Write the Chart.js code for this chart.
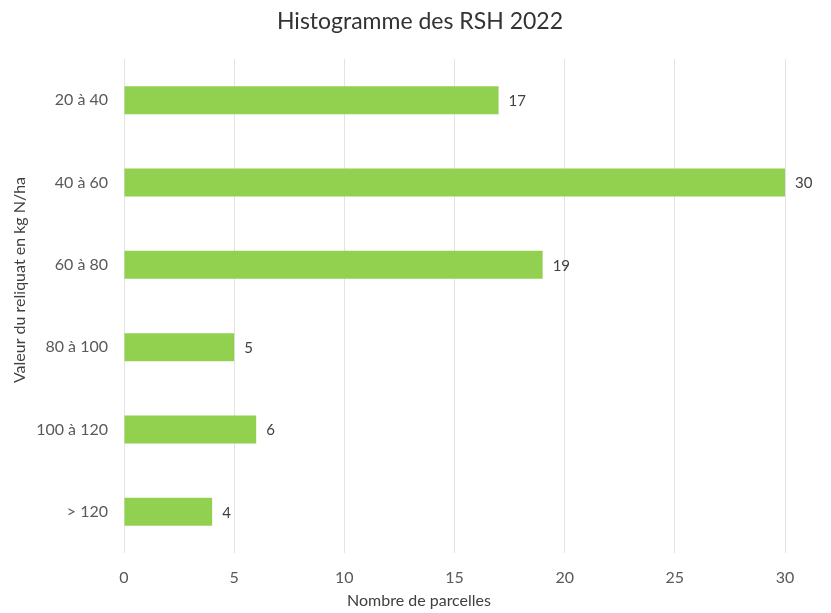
<!DOCTYPE html>
<html>
<head>
<meta charset="utf-8">
<script src="https://cdn.jsdelivr.net/npm/chart.js@4/dist/chart.umd.min.js"></script>
<style>
  html, body { margin: 0; padding: 0; background: #ffffff; }
  #c { display: block; }
</style>
</head>
<body>
<canvas id="c" width="831" height="613"></canvas>
<script>
const categories = ["20 à 40", "40 à 60", "60 à 80", "80 à 100", "100 à 120", "> 120"];
const counts = [17, 30, 19, 5, 6, 4];
const xTicks = [0, 5, 10, 15, 20, 25, 30];
const chartTitle = "Histogramme des RSH 2022";
const xTitle = "Nombre de parcelles";
const yTitle = "Valeur du reliquat en kg N/ha";

const FONT = "Lato, 'Open Sans', sans-serif";

const textPlugin = {
  id: 'texts',
  afterDatasetsDraw(chart) {
    const ctx = chart.ctx;
    ctx.save();
    // data labels
    const meta = chart.getDatasetMeta(0);
    ctx.font = "15px " + FONT;
    ctx.fillStyle = "#404040";
    ctx.textAlign = "left";
    ctx.textBaseline = "middle";
    meta.data.forEach((bar, i) => {
      ctx.fillText(String(counts[i]), bar.x + 10, bar.y + 1);
    });
    // title
    ctx.font = "23px " + FONT;
    ctx.fillStyle = "#333333";
    ctx.textAlign = "center";
    ctx.textBaseline = "middle";
    ctx.fillText(chartTitle, 420, 22);
    // x axis title
    ctx.font = "16px " + FONT;
    ctx.fillStyle = "#404040";
    ctx.fillText(xTitle, 419, 601);
    // y axis title
    ctx.translate(20, 280);
    ctx.rotate(-Math.PI / 2);
    ctx.fillText(yTitle, 0, 0);
    ctx.restore();
  }
};

new Chart(document.getElementById('c'), {
  type: 'bar',
  data: {
    labels: categories,
    datasets: [{
      data: counts,
      backgroundColor: '#92d050',
      borderWidth: 0,
      barPercentage: 0.34,
      categoryPercentage: 1.0
    }]
  },
  options: {
    indexAxis: 'y',
    responsive: false,
    animation: false,
    layout: { padding: { top: 59, right: 46, bottom: 0, left: 0 } },
    plugins: {
      legend: { display: false },
      title: { display: false },
      tooltip: { enabled: false }
    },
    scales: {
      x: {
        min: 0,
        max: 30,
        afterBuildTicks(scale) { scale.ticks = xTicks.map(v => ({ value: v })); },
        afterFit(scale) { scale.height = 60; },
        ticks: { color: '#595959', font: { family: FONT, size: 16 }, padding: 15, maxRotation: 0 },
        grid: { color: '#e3e3e3', lineWidth: 1, drawTicks: false },
        border: { display: false }
      },
      y: {
        afterFit(scale) { scale.width = 124; },
        ticks: { color: '#595959', font: { family: FONT, size: 16 }, padding: 16 },
        grid: { display: false, drawTicks: false },
        border: { display: false }
      }
    }
  },
  plugins: [textPlugin]
});
</script>
</body>
</html>
